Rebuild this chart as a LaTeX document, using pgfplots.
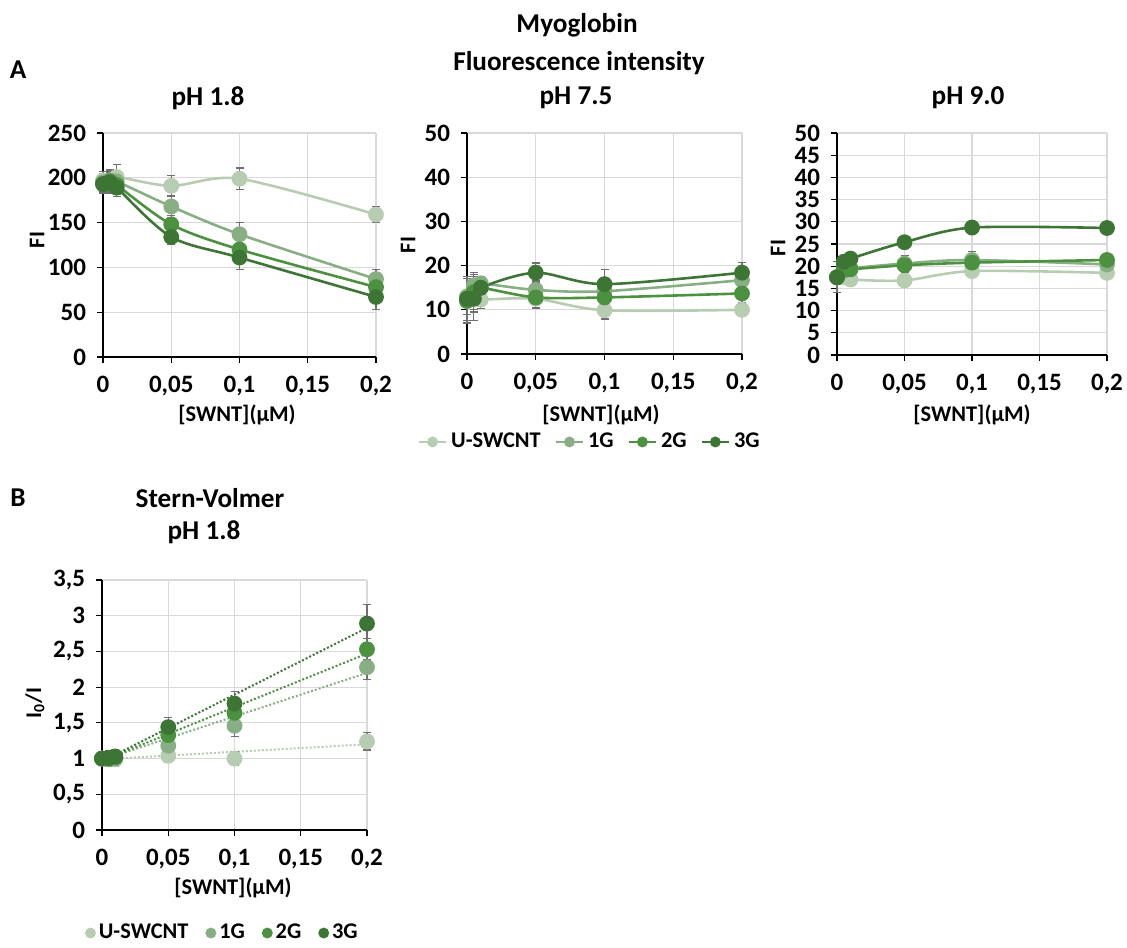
\documentclass[border=0pt]{standalone}
\usepackage{fontspec}
\setmainfont{Carlito}
\usepackage{pgfplots}
\pgfplotsset{compat=1.18}
\definecolor{colU}{HTML}{B7CDB2}
\definecolor{col1}{HTML}{88AF84}
\definecolor{col2}{HTML}{4C913F}
\definecolor{col3}{HTML}{3D7634}
\definecolor{gridc}{HTML}{D9D9D9}
\definecolor{errc}{HTML}{707070}
\newcommand{\tfont}{\fontsize{13.6}{14}\selectfont\bfseries}
\newcommand{\lfont}{\fontsize{11.2}{12}\selectfont\bfseries}
\newcommand{\kfont}{\fontsize{12.5}{13}\selectfont\bfseries}
\pgfplotsset{
 fig/.style={scale only axis,clip=false,xmin=0,xmax=0.2,
  xtick={0,0.05,0.1,0.15,0.2},
  axis x line*=bottom,axis y line*=left,
  axis line style={black,line width=0.6pt,-},
  tick align=outside,major tick length=3pt,tick style={black,line width=0.6pt},
  grid=major,grid style={gridc,line width=0.6pt},
  every tick label/.append style={font=\kfont},
  /pgf/number format/assume math mode=true,/pgf/number format/use comma,
  xticklabel style={yshift=-3pt,/pgf/number format/fixed,/pgf/number format/precision=2},
  yticklabel style={xshift=-2pt},
  legend image post style={mark size=2.2pt,line width=1pt}},
 eb/.style={error bars/y dir=both,error bars/y explicit,
  error bars/error bar style={errc,line width=0.6pt},
  error bars/error mark options={rotate=90,mark size=2pt,errc,line width=0.6pt}},
 sU/.style={colU,line width=1.3pt,smooth,mark=*,mark size=3.3pt,mark options={fill=colU,draw=colU},eb},
 s1/.style={col1,line width=1.3pt,smooth,mark=*,mark size=3.3pt,mark options={fill=col1,draw=col1},eb},
 s2/.style={col2,line width=1.3pt,smooth,mark=*,mark size=3.3pt,mark options={fill=col2,draw=col2},eb},
 s3/.style={col3,line width=1.3pt,smooth,mark=*,mark size=3.3pt,mark options={fill=col3,draw=col3},eb},
 shortline/.style={legend image code/.code={%
  \draw[mark repeat=2,mark phase=2] plot coordinates {(0cm,0cm) (0.24cm,0cm) (0.48cm,0cm)};}},
}
\begin{document}
\begin{tikzpicture}
\path[use as bounding box] (0,0) rectangle (563.5pt,-473.5pt);

% pH 1.8
\begin{axis}[fig,at={(51.5pt,-178.5pt)},anchor=south west,width=136.5pt,height=112pt,
 ymin=0,ymax=250,ytick={0,50,...,250}]
\addplot[sU] coordinates {(0,197) +- (0,10) (0.005,196) +- (0,12) (0.01,201) +- (0,14) (0.05,191) +- (0,12) (0.1,199) +- (0,12) (0.2,159) +- (0,9)};
\addplot[s1] coordinates {(0,195) +- (0,10) (0.005,197) +- (0,12) (0.01,196) +- (0,10) (0.05,168) +- (0,12) (0.1,137) +- (0,13) (0.2,87) +- (0,11)};
\addplot[s2] coordinates {(0,193) +- (0,8) (0.005,196) +- (0,10) (0.01,192) +- (0,10) (0.05,148) +- (0,10) (0.1,120) +- (0,11) (0.2,78) +- (0,10)};
\addplot[s3] coordinates {(0,193) +- (0,10) (0.005,195) +- (0,12) (0.01,189) +- (0,10) (0.05,134) +- (0,8) (0.1,111) +- (0,13) (0.2,67) +- (0,14)};
\end{axis}

% pH 7.5
\begin{axis}[fig,at={(233.5pt,-177pt)},anchor=south west,width=137.5pt,height=110.5pt,
 ymin=0,ymax=50,ytick={0,10,...,50},
 legend style={at={(0.45,-0.398)},anchor=center,legend columns=4,draw=none,fill=none,
  font=\lfont,/tikz/every even column/.append style={column sep=5pt}}]
\addplot[sU,shortline] coordinates {(0,12) +- (0,5) (0.005,12.5) +- (0,3) (0.01,12.3) +- (0,2) (0.05,12.5) +- (0,2) (0.1,9.9) +- (0,2) (0.2,10) +- (0,1)};
\addplot[s1,shortline] coordinates {(0,13) +- (0,4) (0.005,15.5) +- (0,3) (0.01,16) +- (0,1.5) (0.05,14.5) +- (0,2) (0.1,14.2) +- (0,2) (0.2,16.7) +- (0,2)};
\addplot[s2,shortline] coordinates {(0,12) +- (0,5) (0.005,14) +- (0,4) (0.01,15) +- (0,2) (0.05,12.8) +- (0,2.5) (0.1,12.8) +- (0,2) (0.2,13.7) +- (0,2)};
\addplot[s3,shortline] coordinates {(0,12.5) +- (0,5) (0.005,12.5) +- (0,5) (0.01,15) +- (0,2) (0.05,18.4) +- (0,2.2) (0.1,15.8) +- (0,3.4) (0.2,18.4) +- (0,2.3)};
\addlegendentry{U-SWCNT}
\addlegendentry{1G}
\addlegendentry{2G}
\addlegendentry{3G}
\end{axis}

% pH 9.0
\begin{axis}[fig,at={(418.5pt,-177.5pt)},anchor=south west,width=135pt,height=111pt,
 ymin=0,ymax=50,ytick={0,5,...,50}]
\addplot[sU] coordinates {(0,17.5) +- (0,1.2) (0.005,17.5) +- (0,1.2) (0.01,17) +- (0,1.2) (0.05,16.8) +- (0,1) (0.1,18.9) +- (0,1.2) (0.2,18.5) +- (0,1)};
\addplot[s1] coordinates {(0,17.5) +- (0,3.5) (0.005,19) +- (0,1.8) (0.01,19.5) +- (0,1.8) (0.05,20.6) +- (0,1.8) (0.1,21.4) +- (0,2) (0.2,20.4) +- (0,1.2)};
\addplot[s2] coordinates {(0,17.5) +- (0,1.5) (0.005,19.2) +- (0,1.5) (0.01,19.3) +- (0,1.5) (0.05,20.2) +- (0,1.5) (0.1,20.8) +- (0,1.5) (0.2,21.4) +- (0,1)};
\addplot[s3] coordinates {(0,17.5) +- (0,1) (0.005,21) +- (0,1.5) (0.01,21.7) +- (0,1) (0.05,25.4) +- (0,0.8) (0.1,28.7) +- (0,0.8) (0.2,28.6) +- (0,0.8)};
\end{axis}

% Stern-Volmer
\begin{axis}[fig,at={(51pt,-415pt)},anchor=south west,width=132.5pt,height=125pt,
 ymin=0,ymax=3.5,ytick={0,0.5,...,3.5},
 legend style={at={(0.46,-0.412)},anchor=center,legend columns=4,draw=none,fill=none,
  font=\lfont,/tikz/every even column/.append style={column sep=7pt}}]
\addplot[colU,densely dotted,line width=1pt,forget plot] coordinates {(0,0.99) (0.2,1.2)};
\addplot[col1,densely dotted,line width=1pt,forget plot] coordinates {(0,0.98) (0.2,2.2)};
\addplot[col2,densely dotted,line width=1pt,forget plot] coordinates {(0,0.97) (0.2,2.47)};
\addplot[col3,densely dotted,line width=1pt,forget plot] coordinates {(0,0.96) (0.2,2.83)};
\addplot[sU,only marks] coordinates {(0,1) +- (0,0.1) (0.005,1.0) +- (0,0.1) (0.01,0.99) +- (0,0.1) (0.05,1.04) +- (0,0.1) (0.1,1.0) +- (0,0.1) (0.2,1.24) +- (0,0.12)};
\addplot[s1,only marks] coordinates {(0,1) +- (0,0.1) (0.005,0.99) +- (0,0.1) (0.01,1.0) +- (0,0.1) (0.05,1.18) +- (0,0.1) (0.1,1.46) +- (0,0.15) (0.2,2.28) +- (0,0.17)};
\addplot[s2,only marks] coordinates {(0,1) +- (0,0.1) (0.005,1.0) +- (0,0.1) (0.01,1.02) +- (0,0.1) (0.05,1.33) +- (0,0.12) (0.1,1.64) +- (0,0.15) (0.2,2.53) +- (0,0.15)};
\addplot[s3,only marks] coordinates {(0,1) +- (0,0.1) (0.005,1.01) +- (0,0.1) (0.01,1.03) +- (0,0.1) (0.05,1.44) +- (0,0.13) (0.1,1.77) +- (0,0.17) (0.2,2.89) +- (0,0.27)};
\addlegendentry{U-SWCNT}
\addlegendentry{1G}
\addlegendentry{2G}
\addlegendentry{3G}
\end{axis}

\begin{scope}[x=0.5pt,y=-0.5pt]
\node[font=\tfont] at (18,70) {A};
\node[font=\tfont] at (577,25) {Myoglobin};
\node[font=\tfont] at (579,63) {Fluorescence intensity};
\node[font=\tfont] at (208,98) {pH 1.8};
\node[font=\tfont] at (576,98) {pH 7.5};
\node[font=\tfont] at (968,98) {pH 9.0};
\node[font=\lfont,rotate=90] at (37,240) {FI};
\node[font=\lfont,rotate=90] at (408,245) {FI};
\node[font=\lfont,rotate=90] at (778,248) {FI};
\node[font=\lfont] at (237,415) {[SWNT](μM)};
\node[font=\lfont] at (601,415) {[SWNT](μM)};
\node[font=\lfont] at (972,415) {[SWNT](μM)};
\node[font=\tfont] at (18,498) {B};
\node[font=\tfont] at (210,498) {Stern-Volmer};
\node[font=\tfont] at (204,532) {pH 1.8};
\node[font=\lfont,rotate=90] at (35,703) {I\textsubscript{0}/I};
\node[font=\lfont] at (233,888) {[SWNT](μM)};
\end{scope}
\end{tikzpicture}
\end{document}
